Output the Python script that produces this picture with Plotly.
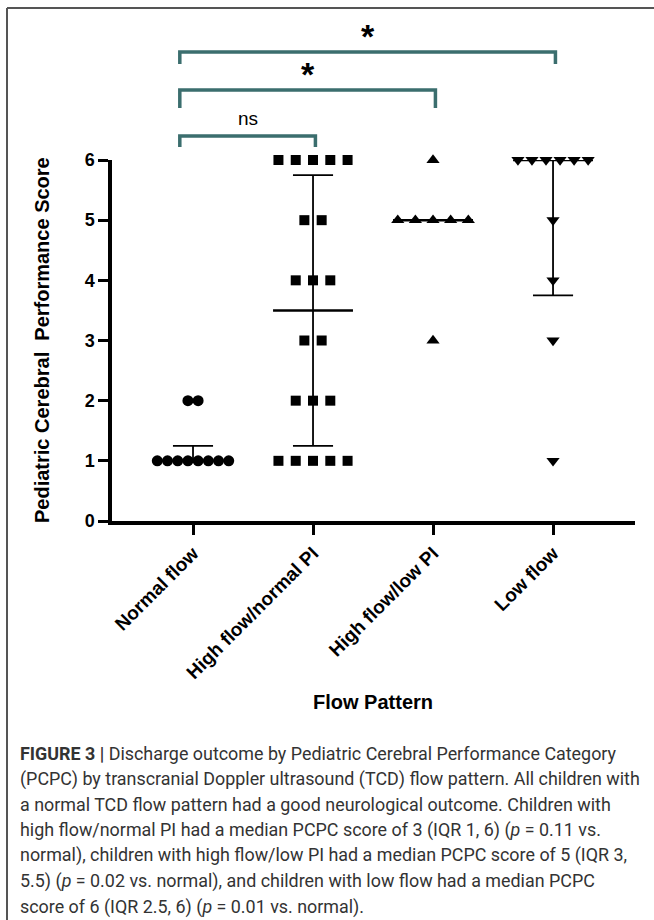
import numpy as np
import plotly.graph_objects as go

# ---------------- data ----------------
categories = ["Normal flow", "High flow/normal PI", "High flow/low PI", "Low flow"]
normal_flow = [1, 1, 1, 1, 1, 1, 1, 1, 2, 2]
high_flow_normal_pi = [1, 1, 1, 1, 1, 2, 2, 2, 3, 3, 4, 4, 4, 5, 5, 6, 6, 6, 6, 6]
high_flow_low_pi = [3, 5, 5, 5, 5, 5, 6]
low_flow = [1, 3, 4, 5, 6, 6, 6, 6, 6, 6]
groups = [normal_flow, high_flow_normal_pi, high_flow_low_pi, low_flow]

y_ticks = [0, 1, 2, 3, 4, 5, 6]
y_title = "Pediatric Cerebral\u00a0 Performance Score"
x_title = "Flow Pattern"

comparisons = [(0, 1, "ns"), (0, 2, "*"), (0, 3, "*")]

caption_lines = [
    "<b>FIGURE 3 |</b> Discharge outcome by Pediatric Cerebral Performance Category",
    "(PCPC) by transcranial Doppler ultrasound (TCD) flow pattern. All children with",
    "a normal TCD flow pattern had a good neurological outcome. Children with",
    "high flow/normal PI had a median PCPC score of 3 (IQR 1, 6) (<i>p</i> = 0.11 vs.",
    "normal), children with high flow/low PI had a median PCPC score of 5 (IQR 3,",
    "5.5) (<i>p</i> = 0.02 vs. normal), and children with low flow had a median PCPC",
    "score of 6 (IQR 2.5, 6) (<i>p</i> = 0.01 vs. normal).",
]

# ---------------- style ----------------
symbols = ["circle", "square", "triangle-up", "triangle-down"]
marker_sizes = [11, 10, 11.5, 11.5]
spacing = [0.085, 0.144, 0.147, 0.117]   # horizontal spread between stacked points
median_half = 0.333
cap_half = 0.167
bracket_color = "#3b6e6e"
FONT = "Liberation Sans"

W, H = 654, 920
L, R, T, B = 112, 19, 160, 399
xmin, xmax = -0.675, 3.683
PW, PH = W - L - R, H - T - B


def px_x(p):
    return (p - L) / PW


def px_y(p):
    return (H - B - p) / PH


def data_x_to_paper(v):
    return (v - xmin) / (xmax - xmin)


fig = go.Figure()

# median / IQR lines
for i, vals in enumerate(groups):
    arr = np.array(vals, dtype=float)
    med = np.median(arr)
    q1, q3 = np.percentile(arr, [25, 75], method="weibull")
    fig.add_trace(go.Scatter(
        x=[i - median_half, i + median_half], y=[med, med], mode="lines",
        line=dict(color="black", width=2.5), hoverinfo="skip", cliponaxis=False))
    fig.add_trace(go.Scatter(
        x=[i, i, None, i - cap_half, i + cap_half, None, i - cap_half, i + cap_half],
        y=[q1, q3, None, q1, q1, None, q3, q3], mode="lines",
        line=dict(color="black", width=1.8), hoverinfo="skip", cliponaxis=False))

# points
for i, vals in enumerate(groups):
    xs, ys = [], []
    uniq, counts = np.unique(vals, return_counts=True)
    for v, n in zip(uniq, counts):
        for k in range(n):
            xs.append(i + (k - (n - 1) / 2) * spacing[i])
            ys.append(v)
    fig.add_trace(go.Scatter(
        x=xs, y=ys, mode="markers",
        marker=dict(symbol=symbols[i], size=marker_sizes[i], color="black", line=dict(width=0)),
        cliponaxis=False, hoverinfo="skip"))

# significance brackets
bracket_levels = [  # (horizontal px, tip px, label px)
    (136, 147, 118),
    (90, 108, 71),
    (52, 64, 33),
]
shapes = []
annotations = []
for (a, b, lab), (hy, ty, ly) in zip(comparisons, bracket_levels):
    x0 = data_x_to_paper(a - 0.11)
    x1 = data_x_to_paper(b + 0.02)
    shapes.append(dict(type="path", xref="paper", yref="paper",
                       path=f"M {x0} {px_y(ty)} L {x0} {px_y(hy)} L {x1} {px_y(hy)} L {x1} {px_y(ty)}",
                       line=dict(color=bracket_color, width=3.5)))
    if lab == "*":
        annotations.append(dict(text="<b>*</b>", x=(x0 + x1) / 2, y=px_y(ly + 3), xref="paper", yref="paper",
                                showarrow=False, font=dict(family=FONT, size=34, color="black"),
                                xanchor="center", yanchor="middle"))
    else:
        annotations.append(dict(text=lab, x=(x0 + x1) / 2, y=px_y(ly), xref="paper", yref="paper",
                                showarrow=False, font=dict(family=FONT, size=19, color="black"),
                                xanchor="center", yanchor="middle"))

# frame lines
shapes.append(dict(type="line", xref="paper", yref="paper", x0=px_x(7), x1=px_x(660),
                   y0=px_y(8), y1=px_y(8), line=dict(color="#555555", width=2)))
shapes.append(dict(type="line", xref="paper", yref="paper", x0=px_x(7), x1=px_x(7),
                   y0=px_y(8), y1=px_y(925), line=dict(color="#555555", width=2)))

# axis titles
annotations.append(dict(text=f"<b>{y_title}</b>", x=px_x(42), y=px_y(340), xref="paper", yref="paper",
                        textangle=-90, showarrow=False, font=dict(family=FONT, size=20, color="black"),
                        xanchor="center", yanchor="middle"))
annotations.append(dict(text=f"<b>{x_title}</b>", x=px_x(373), y=px_y(702), xref="paper", yref="paper",
                        showarrow=False, font=dict(family=FONT, size=20, color="black"),
                        xanchor="center", yanchor="middle"))

# caption
cap_top = 753
cap_step = 25.6
for j, line in enumerate(caption_lines):
    annotations.append(dict(text=line, x=px_x(18), y=px_y(cap_top + j * cap_step), xref="paper", yref="paper",
                            showarrow=False, font=dict(family="Roboto", size=17.9, color="#333333"),
                            xanchor="left", yanchor="middle"))

fig.update_layout(
    width=W, height=H, margin=dict(l=L, r=R, t=T, b=B),
    paper_bgcolor="white", plot_bgcolor="white", showlegend=False,
    shapes=shapes, annotations=annotations,
    xaxis=dict(range=[xmin, xmax], tickvals=list(range(len(categories))), ticktext=categories,
               tickangle=-45, showline=True, linewidth=3.5, linecolor="black",
               ticks="outside", ticklen=10, tickwidth=3, tickcolor="black",
               tickfont=dict(family=FONT, size=19, color="black", weight="bold"),
               showgrid=False, zeroline=False, fixedrange=True),
    yaxis=dict(range=[0, 6], tickvals=y_ticks, showline=True, linewidth=3.5, linecolor="black",
               ticks="outside", ticklen=10, tickwidth=3, tickcolor="black",
               tickfont=dict(family=FONT, size=18, color="black", weight="bold"),
               showgrid=False, zeroline=False, fixedrange=True),
)

fig.write_html("out.html", config={"displayModeBar": False},
               post_script="document.body.style.margin='0';document.body.style.overflow='hidden';")
